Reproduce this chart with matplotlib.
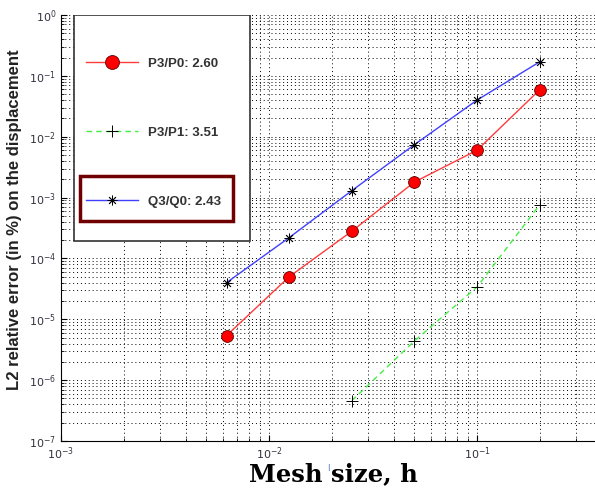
import matplotlib
matplotlib.use('Agg')
import matplotlib.pyplot as plt
from matplotlib.patches import Rectangle
import numpy as np

# mesh size
h = [0.00625, 0.0125, 0.025, 0.05, 0.1, 0.2]

# L2 relative error
err_p3p0 = [5.4e-6, 5.0e-5, 2.8e-4, 1.8e-3, 6.0e-3, 5.9e-2]
err_q3q0 = [4.0e-5, 2.2e-4, 1.3e-3, 7.4e-3, 4.0e-2, 1.7e-1]
h_p3p1 = [0.025, 0.05, 0.1, 0.2]
err_p3p1 = [4.6e-7, 4.4e-6, 3.4e-5, 7.6e-4]

labels = ['P3/P0: 2.60', 'P3/P1: 3.51', 'Q3/Q0: 2.43']

fig = plt.figure(figsize=(5.95, 4.9), dpi=100)
ax = fig.add_axes([61/595, 0.1, 534/595, 426/490])

ax.plot(h, err_p3p0, '-', color='#ff3b3b', lw=1, marker='o', ms=8.5,
        mfc='red', mec='#600000', mew=0.6, label=labels[0], zorder=3)
ax.plot(h_p3p1, err_p3p1, '--', color='#44ee44', lw=1, dashes=(4, 3),
        marker='+', ms=9, mfc='k', mec='k', mew=0.7, label=labels[1], zorder=3)
# matlab style asterisk
ax.plot(h, err_q3q0, '-', color='#4040ff', lw=1, marker=(8, 2, 0), ms=7,
        mfc='k', mec='k', mew=0.6, label=labels[2], zorder=3)

ax.set_xscale('log')
ax.set_yscale('log')
ax.set_xlim(1e-3, 0.369)
ax.set_ylim(1e-7, 1)

ax.grid(True, which='both', color='k', linestyle=(0, (1, 3)), lw=0.7)
ax.spines['top'].set_visible(False)
ax.spines['right'].set_visible(False)
ax.tick_params(which='both', direction='in', labelsize=8, labelcolor='#333340',
               top=False, right=False)
ax.tick_params(which='major', length=4)
ax.tick_params(which='minor', length=2)
ax.set_yticks([10.0**k for k in range(-7, 1)])

ax.set_ylabel('L2 relative error (in %) on the displacement', fontsize=12,
              fontweight='bold', family='Liberation Sans', color='#222222')
ax.yaxis.set_label_coords(-0.073, (441 - 220)/426)
ax.set_xlabel('Mesh size, h', fontsize=17.5, fontweight='bold',
              family='DejaVu Serif', color='black')
ax.xaxis.set_label_coords((333 - 61)/534, -(474 - 441)/426)
ax.xaxis.label.set_va('center')
# small stray mark in the original between the words
ax.text((328 - 61)/534, -(468 - 441)/426, 'I', transform=ax.transAxes,
        fontsize=6, color='#4a78b8', ha='center', va='center')

# legend frame
ax.add_patch(Rectangle((13/534, 200/426), 176/534, 226/426, transform=ax.transAxes,
                       facecolor='white', edgecolor='#333333', lw=1.2, zorder=5))
leg = ax.legend(loc='upper left', bbox_to_anchor=(18/534, (441 - 51)/426),
                frameon=False, labelspacing=4.3, borderpad=0,
                handlelength=4.0, handletextpad=0.75,
                prop={'family': 'Liberation Sans', 'weight': 'bold', 'size': 9.5})
leg.set_zorder(6)
for t in leg.get_texts():
    t.set_color('#333333')
for line in leg.get_lines():
    if line.get_marker() == 'o':
        line.set_markersize(10)
# box around the Q3/Q0 entry
ax.add_patch(Rectangle((19/534, 220/426), 153/534, 45/426, transform=ax.transAxes,
                       facecolor='none', edgecolor='#700000', lw=2.5, zorder=7))

fig.savefig('out.png', dpi=100)
